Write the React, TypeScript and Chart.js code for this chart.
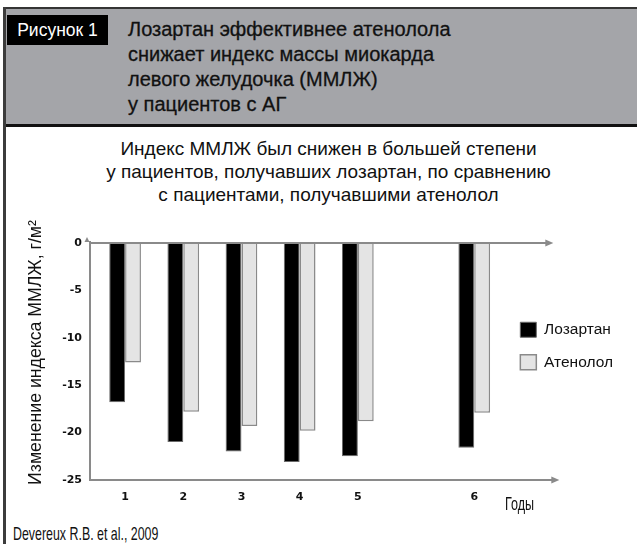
import React, { useEffect, useRef } from "react";
import { Chart, registerables } from "chart.js";

Chart.register(...registerables);

// ---- data ----
const categories = ["1", "2", "3", "4", "5", "", "6"];
const losartan = [-16.8, -21.0, -22.0, -23.1, -22.5, null, -21.6];
const atenolol = [-12.6, -17.8, -19.3, -19.8, -18.8, null, -17.9];
const seriesNames = ["Лозартан", "Атенолол"];
const yMin = -25;
const yMax = 0;
const yStep = 5;

// ---- texts ----
const figureLabel = "Рисунок 1";
const headerTitle = [
  "Лозартан эффективнее атенолола",
  "снижает индекс массы миокарда",
  "левого желудочка (ММЛЖ)",
  "у пациентов с АГ",
];
const subtitle = [
  "Индекс ММЛЖ был снижен в большей степени",
  "у пациентов, получавших лозартан, по сравнению",
  "с пациентами, получавшими атенолол",
];
const yTitle = "Изменение индекса ММЛЖ, г/м²";
const xTitle = "Годы";
const source = "Devereux R.B. et al., 2009";

const FONT = "'Liberation Sans', Arial, Helvetica, sans-serif";
const TICK_FONT = "'DejaVu Sans', sans-serif";
const AXIS = "#8a8a8a";

const arrowAxes = {
  id: "arrowAxes",
  afterDatasetsDraw(chart: any) {
    const { ctx, chartArea, scales } = chart;
    const ys = scales.y;
    const y0 = ys.getPixelForValue(yMax);
    const yb = ys.getPixelForValue(yMin);
    const ax = chartArea.left - 6;
    ctx.save();
    ctx.strokeStyle = AXIS;
    ctx.fillStyle = AXIS;
    ctx.lineWidth = 2;
    const hline = (yy: number, x2: number) => {
      ctx.beginPath();
      ctx.moveTo(ax - 1, yy);
      ctx.lineTo(x2 - 5, yy);
      ctx.stroke();
      ctx.beginPath();
      ctx.moveTo(x2, yy);
      ctx.lineTo(x2 - 8, yy - 3.5);
      ctx.lineTo(x2 - 8, yy + 3.5);
      ctx.closePath();
      ctx.fill();
    };
    hline(y0, chartArea.right + 50);
    hline(yb, chartArea.right + 56);
    ctx.beginPath();
    ctx.moveTo(ax, yb);
    ctx.lineTo(ax, y0 - 2);
    ctx.stroke();
    ctx.beginPath();
    ctx.moveTo(ax - 3, y0 - 6);
    ctx.lineTo(ax - 5.5, y0 - 1);
    ctx.lineTo(ax - 0.5, y0 - 1);
    ctx.closePath();
    ctx.fill();
    ctx.restore();
  },
  afterDraw(chart: any) {
    const { ctx, chartArea } = chart;
    ctx.save();
    ctx.translate(30, (chartArea.top + chartArea.bottom) / 2 - 9);
    ctx.rotate(-Math.PI / 2);
    ctx.font = `17.7px ${FONT}`;
    ctx.fillStyle = "#111";
    ctx.textAlign = "center";
    ctx.textBaseline = "middle";
    ctx.fillText(yTitle, 0, 0);
    ctx.restore();
  },
};

function ChartCanvas() {
  const ref = useRef<HTMLCanvasElement | null>(null);
  useEffect(() => {
    if (!ref.current) return;
    const chart = new Chart(ref.current, {
      type: "bar",
      data: {
        labels: categories,
        datasets: [
          {
            label: seriesNames[0],
            data: losartan,
            backgroundColor: "#000000",
            borderColor: "#6a6a6a",
            borderWidth: 1,
          },
          {
            label: seriesNames[1],
            data: atenolol,
            backgroundColor: "#e4e4e4",
            borderColor: "#8a8a8a",
            borderWidth: 1.5,
          },
        ],
      },
      options: {
        responsive: false,
        animation: false,
        layout: { padding: { left: 0, right: 14, top: 43, bottom: 0 } },
        datasets: { bar: { categoryPercentage: 0.545, barPercentage: 1 } },
        plugins: {
          tooltip: { enabled: false },
          title: { display: false },
          legend: {
            position: "right",
            align: "start",
            fullSize: false,
            title: {
              display: true,
              text: "",
              font: { size: 12 },
              padding: { top: 47.6, bottom: 0 },
            },
            labels: {
              boxWidth: 16,
              boxHeight: 15,
              padding: 17,
              color: "#111",
              font: { family: FONT, size: 15.5 },
            },
          },
        },
        scales: {
          x: {
            grid: { display: false, drawTicks: false },
            border: { display: false },
            ticks: {
              padding: 11,
              autoSkip: false,
              maxRotation: 0,
              color: "#111",
              font: { family: TICK_FONT, size: 11, weight: "bold" },
            },
            afterFit: (s: any) => {
              s.height = 40;
            },
          },
          y: {
            min: yMin,
            max: yMax,
            grid: { display: false, drawTicks: false },
            border: { display: false },
            ticks: {
              stepSize: yStep,
              padding: 14,
              color: "#111",
              font: { family: TICK_FONT, size: 11, weight: "bold" },
            },
            title: { display: false },
            afterFit: (s: any) => {
              s.width = 90;
            },
          },
        },
      },
      plugins: [arrowAxes],
    } as any);
    return () => chart.destroy();
  }, []);
  return (
    <canvas
      ref={ref}
      width={631}
      height={320}
      style={{ position: "absolute", left: 6, top: 200, width: 631, height: 320 }}
    />
  );
}

export default function App() {
  return (
    <div
      style={{
        position: "absolute",
        left: 0,
        top: 0,
        width: 637,
        height: 544,
        overflow: "hidden",
        background: "#ffffff",
        fontFamily: FONT,
        color: "#111",
      }}
    >
      {/* frame */}
      <div style={{ position: "absolute", left: 3, top: 7, width: 634, height: 2, background: "#343434" }} />
      <div style={{ position: "absolute", left: 3, top: 7, width: 3, height: 537, background: "#3c3c3c" }} />
      <div style={{ position: "absolute", left: 6, top: 9, width: 631, height: 115, background: "#a4a5a9" }} />
      <div style={{ position: "absolute", left: 6, top: 124, width: 631, height: 3, background: "#111" }} />
      {/* figure label */}
      <div
        style={{
          position: "absolute",
          left: 7,
          top: 15,
          width: 101,
          height: 30,
          background: "#000",
          color: "#fff",
          fontSize: 17.5,
          lineHeight: "30px",
          textAlign: "center",
          whiteSpace: "nowrap",
        }}
      >
        {figureLabel}
      </div>
      {/* header title */}
      <div
        style={{
          position: "absolute",
          left: 128,
          top: 16.5,
          fontSize: 20,
          lineHeight: "25px",
          color: "#111",
          whiteSpace: "nowrap",
          WebkitTextStroke: "0.3px #111",
        }}
      >
        {headerTitle.map((l, i) => (
          <div key={i}>{l}</div>
        ))}
      </div>
      {/* subtitle */}
      <div
        style={{
          position: "absolute",
          left: 20,
          width: 617,
          top: 137,
          fontSize: 19,
          lineHeight: "23px",
          textAlign: "center",
          color: "#111",
          whiteSpace: "nowrap",
        }}
      >
        {subtitle.map((l, i) => (
          <div key={i}>{l}</div>
        ))}
      </div>
      <ChartCanvas />
      {/* x axis title */}
      <div
        style={{
          position: "absolute",
          left: 505,
          top: 494,
          fontSize: 18.5,
          lineHeight: "20px",
          transform: "scaleX(0.68)",
          transformOrigin: "left top",
          whiteSpace: "nowrap",
        }}
      >
        {xTitle}
      </div>
      {/* source */}
      <div
        style={{
          position: "absolute",
          left: 13,
          top: 524,
          fontSize: 18.5,
          lineHeight: "20px",
          transform: "scaleX(0.67)",
          transformOrigin: "left top",
          whiteSpace: "nowrap",
        }}
      >
        {source}
      </div>
    </div>
  );
}
